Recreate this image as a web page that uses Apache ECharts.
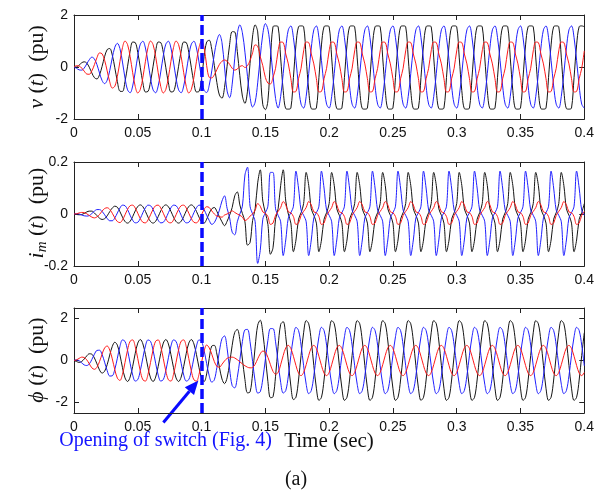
<!DOCTYPE html>
<html><head><meta charset="utf-8">
<script src="https://cdn.jsdelivr.net/npm/echarts@6/dist/echarts.min.js"></script>
<style>html,body{margin:0;padding:0;background:#fff}#c{width:597px;height:493px}</style>
</head><body><div id="c"></div>
<script>
// uniform sampling step of the digitised waveforms (s)
const dt = 0.002;
const xTickValues = [0, 0.05, 0.1, 0.15, 0.2, 0.25, 0.3, 0.35, 0.4];
const switchTime = 0.1;

// ---- voltage v(t) (pu) ----
const vBlack = [
0,0.00,0.07,0.16,0.20,0.15,-0.01,-0.23,-0.41,-0.46,
-0.30,0.02,0.40,0.67,0.71,0.46,-0.03,-0.56,-0.93,-0.94,
-0.56,0.03,0.61,0.96,0.94,0.56,-0.03,-0.61,-0.96,-0.94,
-0.56,0.03,0.61,0.96,0.94,0.56,-0.03,-0.61,-0.96,-0.94,
-0.56,0.03,0.61,0.96,0.94,0.56,-0.03,-0.61,-0.96,-0.94,
-0.45,0.41,0.96,1.03,0.68,0.06,-0.60,-1.08,-1.20,-0.79,
0.03,0.87,1.36,1.35,0.60,-0.33,-1.12,-1.40,-0.93,0.14,
1.19,1.62,1.35,-0.15,-1.45,-1.64,-1.30,0.30,1.55,1.58,
1.55,0.35,-0.91,-1.60,-1.62,-1.58,-0.40,0.85,1.55,1.58,
1.55,0.35,-0.91,-1.60,-1.62,-1.58,-0.40,0.85,1.55,1.58,
1.55,0.35,-0.91,-1.60,-1.62,-1.58,-0.40,0.85,1.55,1.58,
1.55,0.35,-0.91,-1.60,-1.62,-1.58,-0.40,0.85,1.55,1.58,
1.55,0.35,-0.91,-1.60,-1.62,-1.58,-0.40,0.85,1.55,1.58,
1.55,0.35,-0.91,-1.60,-1.62,-1.58,-0.40,0.85,1.55,1.58,
1.55,0.35,-0.91,-1.60,-1.62,-1.58,-0.40,0.85,1.55,1.58,
1.55,0.35,-0.91,-1.60,-1.62,-1.58,-0.40,0.85,1.55,1.58,
1.55,0.35,-0.91,-1.60,-1.62,-1.58,-0.40,0.85,1.55,1.58,
1.55,0.35,-0.91,-1.60,-1.62,-1.58,-0.40,0.85,1.55,1.58,
1.55,0.35,-0.91,-1.60,-1.62,-1.58,-0.40,0.85,1.55,1.58,
1.55,0.35,-0.91,-1.60,-1.62,-1.58,-0.40,0.85,1.55,1.58,
1.55];
const vBlue = [
0,-0.05,-0.11,-0.12,-0.04,0.12,0.28,0.38,0.31,0.09,
-0.23,-0.52,-0.64,-0.51,-0.14,0.35,0.76,0.91,0.71,0.19,
-0.43,-0.88,-0.99,-0.73,-0.19,0.43,0.88,0.99,0.73,0.19,
-0.43,-0.88,-0.99,-0.73,-0.19,0.43,0.88,0.99,0.73,0.19,
-0.43,-0.88,-0.99,-0.73,-0.19,0.43,0.88,0.99,0.73,0.19,
-0.43,-0.90,-0.98,-0.70,-0.15,0.49,1.01,1.25,0.94,0.00,
-0.92,-1.18,-0.66,0.34,1.27,1.62,1.32,0.57,-0.36,-1.16,
-1.54,-1.35,-0.61,0.39,1.27,1.67,1.45,0.69,-0.32,-1.21,
-1.58,-1.13,-0.25,0.73,1.43,1.58,1.13,0.25,-0.73,-1.43,
-1.58,-1.13,-0.25,0.73,1.43,1.58,1.13,0.25,-0.73,-1.43,
-1.58,-1.13,-0.25,0.73,1.43,1.58,1.13,0.25,-0.73,-1.43,
-1.58,-1.13,-0.25,0.73,1.43,1.58,1.13,0.25,-0.73,-1.43,
-1.58,-1.13,-0.25,0.73,1.43,1.58,1.13,0.25,-0.73,-1.43,
-1.58,-1.13,-0.25,0.73,1.43,1.58,1.13,0.25,-0.73,-1.43,
-1.58,-1.13,-0.25,0.73,1.43,1.58,1.13,0.25,-0.73,-1.43,
-1.58,-1.13,-0.25,0.73,1.43,1.58,1.13,0.25,-0.73,-1.43,
-1.58,-1.13,-0.25,0.73,1.43,1.58,1.13,0.25,-0.73,-1.43,
-1.58,-1.13,-0.25,0.73,1.43,1.58,1.13,0.25,-0.73,-1.43,
-1.58,-1.13,-0.25,0.73,1.43,1.58,1.13,0.25,-0.73,-1.43,
-1.58,-1.13,-0.25,0.73,1.43,1.58,1.13,0.25,-0.73,-1.43,
-1.58];
const vRed = [
0,0.05,0.04,-0.04,-0.16,-0.27,-0.28,-0.15,0.09,0.36,
0.54,0.51,0.26,-0.15,-0.57,-0.81,-0.74,-0.36,0.21,0.75,
1.00,0.86,0.40,-0.22,-0.75,-1.00,-0.86,-0.40,0.22,0.75,
1.00,0.86,0.40,-0.22,-0.75,-1.00,-0.86,-0.40,0.22,0.75,
1.00,0.86,0.40,-0.22,-0.75,-1.00,-0.86,-0.40,0.22,0.75,
1.00,0.75,0.05,-0.40,-0.42,-0.30,-0.10,0.10,0.22,0.27,
0.22,0.10,-0.05,-0.12,-0.08,0.02,0.05,-0.02,0.05,0.25,
0.55,0.85,0.80,0.40,0.05,-0.40,-0.62,-0.65,-0.40,-0.05,
0.62,0.96,0.94,0.50,0.12,-0.45,-0.96,-0.94,-0.45,-0.05,
0.62,0.96,0.94,0.50,0.12,-0.45,-0.96,-0.94,-0.45,-0.05,
0.62,0.96,0.94,0.50,0.12,-0.45,-0.96,-0.94,-0.45,-0.05,
0.62,0.96,0.94,0.50,0.12,-0.45,-0.96,-0.94,-0.45,-0.05,
0.62,0.96,0.94,0.50,0.12,-0.45,-0.96,-0.94,-0.45,-0.05,
0.62,0.96,0.94,0.50,0.12,-0.45,-0.96,-0.94,-0.45,-0.05,
0.62,0.96,0.94,0.50,0.12,-0.45,-0.96,-0.94,-0.45,-0.05,
0.62,0.96,0.94,0.50,0.12,-0.45,-0.96,-0.94,-0.45,-0.05,
0.62,0.96,0.94,0.50,0.12,-0.45,-0.96,-0.94,-0.45,-0.05,
0.62,0.96,0.94,0.50,0.12,-0.45,-0.96,-0.94,-0.45,-0.05,
0.62,0.96,0.94,0.50,0.12,-0.45,-0.96,-0.94,-0.45,-0.05,
0.62,0.96,0.94,0.50,0.12,-0.45,-0.96,-0.94,-0.45,-0.05,
0.62];

// ---- magnetising current i_m(t) (pu) ----
const imBlack = [
0,-0.002,-0.003,-0.002,0.002,0.008,0.011,0.011,0.004,-0.006,
-0.016,-0.021,-0.018,-0.007,0.009,0.023,0.030,0.026,0.009,-0.012,
-0.029,-0.035,-0.028,-0.010,0.012,0.029,0.035,0.028,0.010,-0.012,
-0.029,-0.035,-0.028,-0.010,0.012,0.029,0.035,0.028,0.010,-0.012,
-0.029,-0.035,-0.028,-0.010,0.012,0.029,0.035,0.028,0.010,-0.012,
-0.029,-0.035,-0.020,0.003,0.020,0.025,0.010,-0.011,-0.030,-0.045,
-0.028,-0.004,0.025,0.070,0.085,0.035,0.002,-0.030,-0.120,-0.110,
-0.025,0.020,0.120,0.170,0.050,0.005,-0.040,-0.155,-0.130,-0.020,
0.020,0.110,0.170,0.050,0.000,-0.035,-0.145,-0.10,-0.02,0.005,
0.04,0.16,0.11,0.02,-0.005,-0.035,-0.145,-0.10,-0.02,0.005,
0.04,0.16,0.11,0.02,-0.005,-0.035,-0.145,-0.10,-0.02,0.005,
0.04,0.16,0.11,0.02,-0.005,-0.035,-0.145,-0.10,-0.02,0.005,
0.04,0.16,0.11,0.02,-0.005,-0.035,-0.145,-0.10,-0.02,0.005,
0.04,0.16,0.11,0.02,-0.005,-0.035,-0.145,-0.10,-0.02,0.005,
0.04,0.16,0.11,0.02,-0.005,-0.035,-0.145,-0.10,-0.02,0.005,
0.04,0.16,0.11,0.02,-0.005,-0.035,-0.145,-0.10,-0.02,0.005,
0.04,0.16,0.11,0.02,-0.005,-0.035,-0.145,-0.10,-0.02,0.005,
0.04,0.16,0.11,0.02,-0.005,-0.035,-0.145,-0.10,-0.02,0.005,
0.04,0.16,0.11,0.02,-0.005,-0.035,-0.145,-0.10,-0.02,0.005,
0.04,0.16,0.11,0.02,-0.005,-0.035,-0.145,-0.10,-0.02,0.005,
0.04];
const imBlue = [
0,0.001,0,-0.004,-0.007,-0.008,-0.006,0.002,0.011,0.017,
0.017,0.010,-0.003,-0.017,-0.026,-0.026,-0.015,0.004,0.023,0.034,
0.032,0.017,-0.005,-0.024,-0.034,-0.032,-0.017,0.005,0.024,0.034,
0.032,0.017,-0.005,-0.024,-0.034,-0.032,-0.017,0.005,0.024,0.034,
0.032,0.017,-0.005,-0.024,-0.034,-0.032,-0.017,0.005,0.024,0.034,
0.032,0.017,-0.005,-0.025,-0.040,-0.033,-0.012,0.015,0.050,0.070,
0.022,-0.015,-0.070,-0.080,-0.030,0.000,0.030,0.150,0.180,0.030,
0.000,-0.030,-0.190,-0.140,-0.020,0.005,0.030,0.160,0.160,0.020,
-0.005,-0.03,-0.16,-0.10,-0.015,0.005,0.03,0.165,0.10,0.015,
-0.005,-0.03,-0.16,-0.10,-0.015,0.005,0.03,0.165,0.10,0.015,
-0.005,-0.03,-0.16,-0.10,-0.015,0.005,0.03,0.165,0.10,0.015,
-0.005,-0.03,-0.16,-0.10,-0.015,0.005,0.03,0.165,0.10,0.015,
-0.005,-0.03,-0.16,-0.10,-0.015,0.005,0.03,0.165,0.10,0.015,
-0.005,-0.03,-0.16,-0.10,-0.015,0.005,0.03,0.165,0.10,0.015,
-0.005,-0.03,-0.16,-0.10,-0.015,0.005,0.03,0.165,0.10,0.015,
-0.005,-0.03,-0.16,-0.10,-0.015,0.005,0.03,0.165,0.10,0.015,
-0.005,-0.03,-0.16,-0.10,-0.015,0.005,0.03,0.165,0.10,0.015,
-0.005,-0.03,-0.16,-0.10,-0.015,0.005,0.03,0.165,0.10,0.015,
-0.005,-0.03,-0.16,-0.10,-0.015,0.005,0.03,0.165,0.10,0.015,
-0.005,-0.03,-0.16,-0.10,-0.015,0.005,0.03,0.165,0.10,0.015,
-0.005];
const imRed = [
0,0.001,0.004,0.006,0.005,0.001,-0.006,-0.012,-0.015,-0.011,
-0.002,0.011,0.021,0.024,0.018,0.003,-0.015,-0.029,-0.033,-0.023,
-0.003,0.018,0.032,0.034,0.023,0.003,-0.018,-0.032,-0.034,-0.023,
-0.003,0.018,0.032,0.034,0.023,0.003,-0.018,-0.032,-0.034,-0.023,
-0.003,0.018,0.032,0.034,0.023,0.003,-0.018,-0.032,-0.034,-0.023,
-0.003,0.018,0.028,0.025,0.012,0.000,-0.008,-0.011,-0.012,-0.004,
0.000,0.006,0.012,0.006,0.000,-0.005,-0.012,-0.025,-0.020,-0.008,
0.000,0.015,0.040,0.030,0.008,0.003,-0.010,-0.040,-0.035,-0.005,
0.01,0.025,0.048,0.035,0.008,0.005,-0.01,-0.04,-0.035,-0.005,
0.01,0.025,0.048,0.035,0.008,0.005,-0.01,-0.04,-0.035,-0.005,
0.01,0.025,0.048,0.035,0.008,0.005,-0.01,-0.04,-0.035,-0.005,
0.01,0.025,0.048,0.035,0.008,0.005,-0.01,-0.04,-0.035,-0.005,
0.01,0.025,0.048,0.035,0.008,0.005,-0.01,-0.04,-0.035,-0.005,
0.01,0.025,0.048,0.035,0.008,0.005,-0.01,-0.04,-0.035,-0.005,
0.01,0.025,0.048,0.035,0.008,0.005,-0.01,-0.04,-0.035,-0.005,
0.01,0.025,0.048,0.035,0.008,0.005,-0.01,-0.04,-0.035,-0.005,
0.01,0.025,0.048,0.035,0.008,0.005,-0.01,-0.04,-0.035,-0.005,
0.01,0.025,0.048,0.035,0.008,0.005,-0.01,-0.04,-0.035,-0.005,
0.01,0.025,0.048,0.035,0.008,0.005,-0.01,-0.04,-0.035,-0.005,
0.01,0.025,0.048,0.035,0.008,0.005,-0.01,-0.04,-0.035,-0.005,
0.01];

// ---- flux linkage phi(t) (pu) ----
const phiBlack = [
0,-0.05,-0.09,-0.05,0.07,0.22,0.32,0.30,0.12,-0.16,
-0.45,-0.60,-0.51,-0.20,0.26,0.67,0.87,0.73,0.27,-0.34,
-0.83,-1.00,-0.79,-0.28,0.34,0.83,1.00,0.79,0.28,-0.34,
-0.83,-1.00,-0.79,-0.28,0.34,0.83,1.00,0.79,0.28,-0.34,
-0.83,-1.00,-0.79,-0.28,0.34,0.83,1.00,0.79,0.28,-0.34,
-0.83,-1.00,-0.64,0.10,0.69,0.72,0.31,-0.32,-0.88,-1.10,
-0.83,-0.12,0.72,1.34,1.48,1.00,0.07,-0.91,-1.54,-1.50,
-0.63,0.65,1.68,1.92,1.33,0.20,-1.00,-1.77,-1.73,-0.75,
0.67,1.72,1.85,1.14,-0.06,-1.22,-1.86,-1.75,-0.93,0.24,
1.32,1.90,1.75,0.93,-0.24,-1.32,-1.90,-1.75,-0.93,0.24,
1.32,1.90,1.75,0.93,-0.24,-1.32,-1.90,-1.75,-0.93,0.24,
1.32,1.90,1.75,0.93,-0.24,-1.32,-1.90,-1.75,-0.93,0.24,
1.32,1.90,1.75,0.93,-0.24,-1.32,-1.90,-1.75,-0.93,0.24,
1.32,1.90,1.75,0.93,-0.24,-1.32,-1.90,-1.75,-0.93,0.24,
1.32,1.90,1.75,0.93,-0.24,-1.32,-1.90,-1.75,-0.93,0.24,
1.32,1.90,1.75,0.93,-0.24,-1.32,-1.90,-1.75,-0.93,0.24,
1.32,1.90,1.75,0.93,-0.24,-1.32,-1.90,-1.75,-0.93,0.24,
1.32,1.90,1.75,0.93,-0.24,-1.32,-1.90,-1.75,-0.93,0.24,
1.32,1.90,1.75,0.93,-0.24,-1.32,-1.90,-1.75,-0.93,0.24,
1.32,1.90,1.75,0.93,-0.24,-1.32,-1.90,-1.75,-0.93,0.24,
1.32];
const phiBlue = [
0,0.03,-0.01,-0.11,-0.21,-0.24,-0.16,0.05,0.30,0.48,
0.49,0.29,-0.08,-0.48,-0.74,-0.73,-0.42,0.11,0.67,0.98,
0.91,0.48,-0.13,-0.69,-0.98,-0.91,-0.48,0.13,0.69,0.98,
0.91,0.48,-0.13,-0.69,-0.98,-0.91,-0.48,0.13,0.69,0.98,
0.91,0.48,-0.13,-0.69,-0.98,-0.91,-0.48,0.13,0.69,0.98,
0.91,0.47,-0.15,-0.73,-1.03,-0.92,-0.33,0.45,1.04,1.17,
0.59,-0.41,-1.20,-1.30,-0.81,0.03,0.90,1.46,1.48,0.90,
-0.05,-1.00,-1.55,-1.49,-0.88,0.05,0.96,1.52,1.52,0.89,
-0.09,-1.04,-1.55,-1.43,-0.74,0.24,1.12,1.58,1.43,0.73,
-0.25,-1.13,-1.58,-1.43,-0.73,0.25,1.13,1.58,1.43,0.73,
-0.25,-1.13,-1.58,-1.43,-0.73,0.25,1.13,1.58,1.43,0.73,
-0.25,-1.13,-1.58,-1.43,-0.73,0.25,1.13,1.58,1.43,0.73,
-0.25,-1.13,-1.58,-1.43,-0.73,0.25,1.13,1.58,1.43,0.73,
-0.25,-1.13,-1.58,-1.43,-0.73,0.25,1.13,1.58,1.43,0.73,
-0.25,-1.13,-1.58,-1.43,-0.73,0.25,1.13,1.58,1.43,0.73,
-0.25,-1.13,-1.58,-1.43,-0.73,0.25,1.13,1.58,1.43,0.73,
-0.25,-1.13,-1.58,-1.43,-0.73,0.25,1.13,1.58,1.43,0.73,
-0.25,-1.13,-1.58,-1.43,-0.73,0.25,1.13,1.58,1.43,0.73,
-0.25,-1.13,-1.58,-1.43,-0.73,0.25,1.13,1.58,1.43,0.73,
-0.25,-1.13,-1.58,-1.43,-0.73,0.25,1.13,1.58,1.43,0.73,
-0.25];
const phiRed = [
0,0.03,0.10,0.16,0.14,0.03,-0.16,-0.35,-0.42,-0.32,
-0.05,0.30,0.60,0.69,0.50,0.08,-0.44,-0.84,-0.95,-0.66,
-0.09,0.51,0.92,0.98,0.66,0.09,-0.51,-0.92,-0.98,-0.66,
-0.09,0.51,0.92,0.98,0.66,0.09,-0.51,-0.92,-0.98,-0.66,
-0.09,0.51,0.92,0.98,0.66,0.09,-0.51,-0.92,-0.98,-0.66,
-0.09,0.45,0.74,0.60,0.30,-0.05,-0.28,-0.32,-0.18,-0.02,
0.10,0.15,0.16,0.12,0.04,-0.06,-0.16,-0.25,-0.32,-0.35,
-0.33,-0.18,0.08,0.32,0.45,0.40,0.15,-0.20,-0.52,-0.65,
-0.57,-0.20,0.24,0.60,0.72,0.57,0.20,-0.24,-0.60,-0.72,
-0.57,-0.20,0.24,0.60,0.72,0.57,0.20,-0.24,-0.60,-0.72,
-0.57,-0.20,0.24,0.60,0.72,0.57,0.20,-0.24,-0.60,-0.72,
-0.57,-0.20,0.24,0.60,0.72,0.57,0.20,-0.24,-0.60,-0.72,
-0.57,-0.20,0.24,0.60,0.72,0.57,0.20,-0.24,-0.60,-0.72,
-0.57,-0.20,0.24,0.60,0.72,0.57,0.20,-0.24,-0.60,-0.72,
-0.57,-0.20,0.24,0.60,0.72,0.57,0.20,-0.24,-0.60,-0.72,
-0.57,-0.20,0.24,0.60,0.72,0.57,0.20,-0.24,-0.60,-0.72,
-0.57,-0.20,0.24,0.60,0.72,0.57,0.20,-0.24,-0.60,-0.72,
-0.57,-0.20,0.24,0.60,0.72,0.57,0.20,-0.24,-0.60,-0.72,
-0.57,-0.20,0.24,0.60,0.72,0.57,0.20,-0.24,-0.60,-0.72,
-0.57,-0.20,0.24,0.60,0.72,0.57,0.20,-0.24,-0.60,-0.72,
-0.57];

const yTicksV = [-2, 0, 2];
const yTicksIm = [-0.2, 0, 0.2];
const yTicksPhi = [-2, 0, 2];

const COL = {black: '#151515', blue: '#2020ff', red: '#ff1a1a'};
const AX = '#222';
const tickFont = {fontFamily: 'Liberation Sans', fontSize: 14, color: '#111'};

function pairs(arr) { return arr.map((v, k) => [+(k * dt).toFixed(3), v]); }

const grids = [
  {left: 74, top: 15, width: 511, height: 104},
  {left: 74, top: 162, width: 511, height: 104},
  {left: 74, top: 308, width: 511, height: 105}
];

const xAxes = [], yAxes = [];
const yRanges = [
  {min: -2, max: 2, ticks: yTicksV},
  {min: -0.2, max: 0.2, ticks: yTicksIm},
  {min: -2.5, max: 2.5, ticks: yTicksPhi}
];
grids.forEach((g, i) => {
  ['bottom', 'top'].forEach(pos => {
    xAxes.push({
      type: 'value', gridIndex: i, position: pos, min: 0, max: 0.4,
      axisLine: {show: true, onZero: false, lineStyle: {color: AX, width: 1}},
      axisTick: {show: true, inside: true, length: 5, customValues: xTickValues, lineStyle: {color: AX}},
      axisLabel: {show: pos === 'bottom', customValues: xTickValues, margin: 7, ...tickFont},
      splitLine: {show: false}
    });
  });
  ['left', 'right'].forEach(pos => {
    const r = yRanges[i];
    yAxes.push({
      type: 'value', gridIndex: i, position: pos, min: r.min, max: r.max,
      axisLine: {show: true, onZero: false, lineStyle: {color: AX, width: 1}},
      axisTick: {show: true, inside: true, length: 5, customValues: r.ticks, lineStyle: {color: AX}},
      axisLabel: {show: pos === 'left', customValues: r.ticks, margin: 6, ...tickFont},
      splitLine: {show: false}
    });
  });
});

const switchLine = {
  silent: true, symbol: ['none', 'none'], label: {show: false},
  lineStyle: {color: '#0a0aff', width: 3.5, type: [10, 4]},
  data: [{xAxis: switchTime}]
};

const sets = [
  [vBlack, vBlue, vRed],
  [imBlack, imBlue, imRed],
  [phiBlack, phiBlue, phiRed]
];
const series = [];
sets.forEach((s, i) => {
  [[s[0], COL.black], [s[1], COL.blue], [s[2], COL.red]].forEach(([arr, c], n) => {
    series.push({
      type: 'line', xAxisIndex: 2 * i, yAxisIndex: 2 * i, data: pairs(arr),
      showSymbol: false, smooth: 0.35, clip: true,
      lineStyle: {color: c, width: 1}, itemStyle: {color: c},
      z: 2 + n,
      markLine: n === 2 ? switchLine : undefined
    });
  });
});

const serif = 'Liberation Serif';
const chart = echarts.init(document.getElementById('c'), null, {renderer: 'canvas'});
chart.setOption({
  animation: false, backgroundColor: '#fff',
  grid: grids.map(g => Object.assign({containLabel: false}, g)),
  xAxis: xAxes, yAxis: yAxes, series: series
});

function yTitle(id, x, y, text) {
  return {
    id, type: 'text', x, y, rotation: Math.PI / 2,
    style: {
      text, fill: '#111', fontFamily: serif, fontSize: 22,
      align: 'center', verticalAlign: 'middle',
      rich: {
        i: {fontFamily: serif, fontSize: 22, fontStyle: 'italic', fill: '#111'},
        s: {fontFamily: serif, fontSize: 15, fontStyle: 'italic', fill: '#111', padding: [10, 0, 0, 0]}
      }
    }
  };
}

const tip = chart.convertToPixel({xAxisIndex: 4, yAxisIndex: 4}, [0.0975, -0.95]);
const tail = [tip[0] - 35, tip[1] + 42];
const ang = Math.atan2(tip[1] - tail[1], tip[0] - tail[0]);
const hl = 14, hw = 6;
const base = [tip[0] - hl * Math.cos(ang), tip[1] - hl * Math.sin(ang)];
const head = [
  tip,
  [base[0] + hw * Math.sin(ang), base[1] - hw * Math.cos(ang)],
  [base[0] - hw * Math.sin(ang), base[1] + hw * Math.cos(ang)]
];

chart.setOption({
  graphic: [
    yTitle('yt0', 37, 67, '{i|v} ({i|t})  (pu)'),
    yTitle('yt1', 37, 213, '{i|i}{s|m} ({i|t})  (pu)'),
    yTitle('yt2', 37, 360, '{i|ϕ} ({i|t})  (pu)'),
    {id: 'arrowLine', type: 'line', shape: {x1: tail[0], y1: tail[1], x2: base[0], y2: base[1]},
     style: {stroke: '#0a0aff', lineWidth: 3}},
    {id: 'arrowHead', type: 'polygon', shape: {points: head}, style: {fill: '#0a0aff'}},
    {id: 'note', type: 'text', x: 272, y: 441,
     style: {text: 'Opening of switch (Fig. 4)', fill: '#1414ff', fontFamily: serif, fontSize: 20, align: 'right', verticalAlign: 'middle'}},
    {id: 'xt', type: 'text', x: 329, y: 441,
     style: {text: 'Time (sec)', fill: '#111', fontFamily: serif, fontSize: 21, align: 'center', verticalAlign: 'middle'}},
    {id: 'cap', type: 'text', x: 296, y: 480,
     style: {text: '(a)', fill: '#111', fontFamily: serif, fontSize: 20, align: 'center', verticalAlign: 'middle'}}
  ]
});
</script></body></html>
